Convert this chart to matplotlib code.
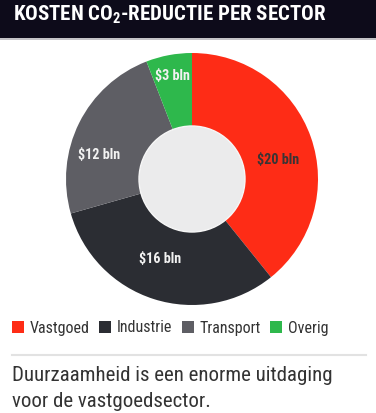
import matplotlib
matplotlib.use("Agg")
import numpy as np
import matplotlib.pyplot as plt
from matplotlib.patches import Rectangle, Circle, Patch
from matplotlib.lines import Line2D

# data
sectoren = ["Vastgoed", "Industrie", "Transport", "Overig"]
kosten = [20, 16, 12, 3]                       # miljard dollar
labels = ["$20 bln", "$16 bln", "$12 bln", "$3 bln"]
kleuren = ["#fe2c16", "#2b2d33", "#5e5e64", "#2eb84c"]
label_kleur = ["#3a3434", "#f2f2f2", "#f2f2f2", "#f2f2f2"]
# label placement (angle offset in degrees, radius fraction) per wedge
label_pos = [(-7, 0.70), (-4, 0.68), (12, 0.76), (0, 0.83)]

FONT = ["Roboto Condensed", "PT Sans Narrow", "DejaVu Sans"]
plt.rcParams["font.family"] = FONT
plt.rcParams["mathtext.fontset"] = "custom"
plt.rcParams["mathtext.rm"] = "Roboto Condensed:bold"

W, H = 376, 413
fig = plt.figure(figsize=(W / 100, H / 100), dpi=100)
fig.patch.set_facecolor("white")

def fx(px):
    return px / W

def fy(py):
    return 1 - py / H

# title bar
fig.patches.append(Rectangle((0, fy(38)), 1, 38 / H, transform=fig.transFigure,
                             facecolor="#0d0b1a", edgecolor="none", zorder=0))
fig.lines.append(Line2D([0, 1], [fy(38.5), fy(38.5)], transform=fig.transFigure,
                        color="#b8b8bc", lw=1.2))
fig.text(fx(13), fy(21), r"KOSTEN CO$\mathregular{_2}$-REDUCTIE PER SECTOR",
         color="white", fontsize=15, fontweight="bold", ha="left", va="baseline")

# donut
cx, cy, R = 192, 179, 126
ax = fig.add_axes([fx(cx - R), fy(cy + R), 2 * R / W, 2 * R / H])
wedges, _ = ax.pie(kosten, colors=kleuren, startangle=90, counterclock=False,
                   radius=1, wedgeprops=dict(linewidth=0))
ax.add_patch(Circle((0, 0), 53 / R, facecolor="#ebebec", edgecolor="#f7f7f7",
                    lw=1.0, zorder=5))
ax.set_xlim(-1, 1)
ax.set_ylim(-1, 1)
ax.axis("off")

for w, lab, kl, (da, rf) in zip(wedges, labels, label_kleur, label_pos):
    mid = np.deg2rad((w.theta1 + w.theta2) / 2 + da)
    ax.text(rf * np.cos(mid), rf * np.sin(mid), lab, ha="center", va="center",
            fontsize=10.2, fontweight="bold", color=kl, zorder=6)

# legend
handles = [Patch(facecolor=k, edgecolor="none") for k in kleuren]
fig.legend(handles, sectoren, loc="center left", bbox_to_anchor=(fx(12), fy(328)),
           ncol=4, frameon=False, fontsize=11.5, handlelength=0.75, handleheight=0.75,
           handletextpad=0.35, columnspacing=0.6, borderpad=0, borderaxespad=0,
           labelcolor="#333333")

# separator + caption
fig.lines.append(Line2D([fx(12), fx(366)], [fy(355), fy(355)], transform=fig.transFigure,
                        color="#e2e2e2", lw=1.5))
fig.text(fx(12), fy(381), "Duurzaamheid is een enorme uitdaging",
         fontsize=15, color="#333333", ha="left", va="baseline")
fig.text(fx(12), fy(407), "voor de vastgoedsector.",
         fontsize=15, color="#333333", ha="left", va="baseline")

fig.savefig("out.png", dpi=100)
